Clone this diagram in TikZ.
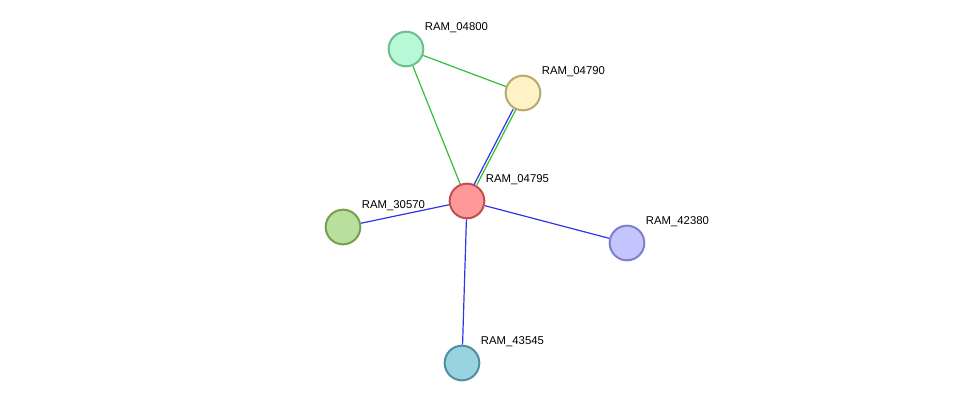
\documentclass[tikz,border=0pt]{standalone}
\usepackage{fontspec}
\setmainfont{Liberation Sans}
\usetikzlibrary{positioning}
\definecolor{edgegreen}{HTML}{33C033}
\definecolor{edgeblue}{HTML}{3333E6}
\tikzset{
    prot/.style={circle, minimum size=26pt, inner sep=0pt, line width=1.5pt}, % protein nodes
    lbl/.style={anchor=west, font=\fontsize{8.5}{10}\selectfont, inner sep=0pt, xshift=14pt, yshift=16pt},
    link/.style={line width=0.9pt},
}
\begin{document}
\begin{tikzpicture}[x=0.75pt, y=-0.75pt]
\useasboundingbox (0,0) rectangle (976,409);
\node[prot, fill={rgb,255:red,184;green,248;blue,214}, draw={rgb,255:red,111;green,190;blue,143}] (n04800) at (406,49) {};
\node[prot, fill={rgb,255:red,255;green,242;blue,196}, draw={rgb,255:red,184;green,169;blue,110}] (n04790) at (523,93) {};
\node[prot, fill={rgb,255:red,255;green,153;blue,153}, draw={rgb,255:red,192;green,80;blue,80}] (n04795) at (467,201) {};
\node[prot, fill={rgb,255:red,184;green,224;blue,156}, draw={rgb,255:red,118;green,160;blue,80}] (n30570) at (343,227) {};
\node[prot, fill={rgb,255:red,196;green,196;blue,255}, draw={rgb,255:red,128;green,128;blue,200}] (n42380) at (627,243) {};
\node[prot, fill={rgb,255:red,153;green,211;blue,224}, draw={rgb,255:red,79;green,143;blue,160}] (n43545) at (462,363) {};
% labels
\node[lbl] (l04800) at (n04800) {RAM\_04800};
\node[lbl] (l04790) at (n04790) {RAM\_04790};
\node[lbl] (l04795) at (n04795) {RAM\_04795};
\node[lbl] (l30570) at (n30570) {RAM\_30570};
\node[lbl] (l42380) at (n42380) {RAM\_42380};
\node[lbl] (l43545) at (n43545) {RAM\_43545};
% edges
\begin{scope}[on background layer/.style={}]
\draw[link, edgegreen] (n04800) -- (n04790);
\draw[link, edgegreen] (n04800) -- (n04795);
\draw[link, edgeblue, transform canvas={xshift=-1.1pt}] (n04790) -- (n04795);
\draw[link, edgegreen, transform canvas={xshift=1.1pt}] (n04790) -- (n04795);
\draw[link, edgeblue] (n04795) -- (n30570);
\draw[link, edgeblue] (n04795) -- (n42380);
\draw[link, edgeblue] (n04795) -- (n43545);
\end{scope}
\end{tikzpicture}
\end{document}
